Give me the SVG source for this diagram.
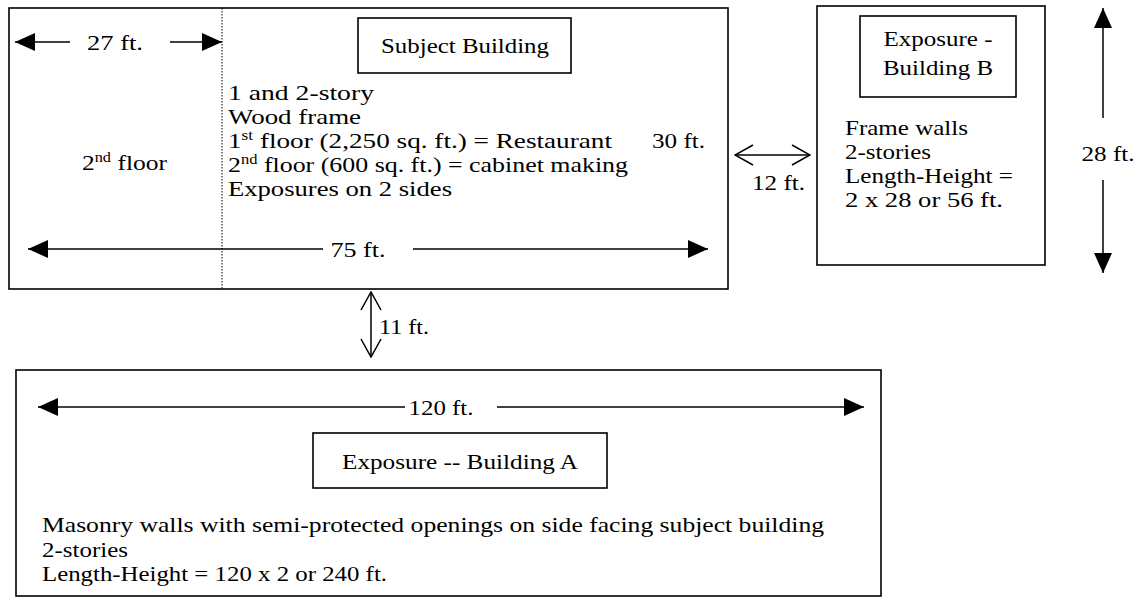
<svg xmlns="http://www.w3.org/2000/svg" width="1138" height="599" viewBox="0 0 1138 599">
<style>
  .box{fill:none;stroke:#000;stroke-width:1.6}
  .t{font-size:22px;fill:#000}
  .c{text-anchor:middle}
  .dim{stroke:#000;stroke-width:1.5;fill:none}
  .sup{font-size:14px}
</style>
<defs>
  <marker id="solid" viewBox="0 0 20 18" refX="20" refY="9" markerWidth="20" markerHeight="18" markerUnits="userSpaceOnUse" orient="auto-start-reverse">
    <path d="M0,0 L20,9 L0,18 Z" fill="#000"/>
  </marker>
  <marker id="open" viewBox="0 0 20 22" refX="19" refY="11" markerWidth="20" markerHeight="22" markerUnits="userSpaceOnUse" orient="auto-start-reverse">
    <path d="M1,1 L19,11 L1,21" fill="none" stroke="#000" stroke-width="1.5"/>
  </marker>
</defs>
<rect width="1138" height="599" fill="#fff"/>
<g font-family="Liberation Serif, DejaVu Serif, serif" lengthAdjust="spacingAndGlyphs">
<g id="subject-building">
  <rect class="box" x="9" y="8" width="719" height="281"/>
  <line x1="222" y1="8" x2="222" y2="289" stroke="#000" stroke-width="1" stroke-dasharray="1.5,1.5"/>
  <text class="t" x="82" y="170" textLength="85" lengthAdjust="spacingAndGlyphs">2<tspan class="sup" dy="-8">nd</tspan><tspan dy="8"> floor</tspan></text>
  <rect class="box" x="358" y="18" width="213" height="55"/>
  <text class="t c" x="465" y="53" textLength="168" lengthAdjust="spacingAndGlyphs">Subject Building</text>
  <text class="t" x="228" y="100" textLength="146" lengthAdjust="spacingAndGlyphs">1 and 2-story</text>
  <text class="t" x="228" y="124" textLength="133" lengthAdjust="spacingAndGlyphs">Wood frame</text>
  <text class="t" x="228" y="148" textLength="384" lengthAdjust="spacingAndGlyphs">1<tspan class="sup" dy="-8">st</tspan><tspan dy="8"> floor (2,250 sq. ft.) = Restaurant</tspan></text>
  <text class="t" x="228" y="172" textLength="400" lengthAdjust="spacingAndGlyphs">2<tspan class="sup" dy="-8">nd</tspan><tspan dy="8"> floor (600 sq. ft.) = cabinet making</tspan></text>
  <text class="t" x="228" y="196" textLength="224" lengthAdjust="spacingAndGlyphs">Exposures on 2 sides</text>
  <text class="t" x="652" y="148" textLength="53" lengthAdjust="spacingAndGlyphs">30 ft.</text>
</g>

<g id="building-b">
  <rect class="box" x="817" y="6" width="228" height="259"/>
  <rect class="box" x="860" y="16" width="156" height="81"/>
  <text class="t c" x="938" y="46" textLength="109" lengthAdjust="spacingAndGlyphs">Exposure -</text>
  <text class="t c" x="938" y="75" textLength="110" lengthAdjust="spacingAndGlyphs">Building B</text>
  <text class="t" x="845" y="135" textLength="123" lengthAdjust="spacingAndGlyphs">Frame walls</text>
  <text class="t" x="845" y="159" textLength="86" lengthAdjust="spacingAndGlyphs">2-stories</text>
  <text class="t" x="845" y="183" textLength="168" lengthAdjust="spacingAndGlyphs">Length-Height =</text>
  <text class="t" x="845" y="207" textLength="158" lengthAdjust="spacingAndGlyphs">2 x 28 or 56 ft.</text>
</g>

<g id="building-a">
  <rect class="box" x="16" y="370" width="865" height="226"/>
  <rect class="box" x="313" y="433" width="294" height="55"/>
  <text class="t c" x="460" y="469" textLength="236" lengthAdjust="spacingAndGlyphs">Exposure -- Building A</text>
  <text class="t" x="42" y="532" textLength="782" lengthAdjust="spacingAndGlyphs">Masonry walls with semi-protected openings on side facing subject building</text>
  <text class="t" x="42" y="557" textLength="86" lengthAdjust="spacingAndGlyphs">2-stories</text>
  <text class="t" x="42" y="581" textLength="345" lengthAdjust="spacingAndGlyphs">Length-Height = 120 x 2 or 240 ft.</text>
</g>

<g id="connectors">
  <line class="dim" x1="70" y1="42" x2="15" y2="42" marker-end="url(#solid)"/>
  <line class="dim" x1="170" y1="42" x2="222" y2="42" marker-end="url(#solid)"/>
  <line class="dim" x1="323" y1="249" x2="28" y2="249" marker-end="url(#solid)"/>
  <line class="dim" x1="413" y1="249" x2="708" y2="249" marker-end="url(#solid)"/>
  <line class="dim" x1="1103" y1="118" x2="1103" y2="8" marker-end="url(#solid)"/>
  <line class="dim" x1="1103" y1="180" x2="1103" y2="273" marker-end="url(#solid)"/>
  <line class="dim" x1="405" y1="407" x2="38" y2="407" marker-end="url(#solid)"/>
  <line class="dim" x1="497" y1="407" x2="864" y2="407" marker-end="url(#solid)"/>
  <line class="dim" x1="735" y1="155" x2="810" y2="155" marker-start="url(#open)" marker-end="url(#open)"/>
  <line class="dim" x1="371" y1="292" x2="371" y2="357" marker-start="url(#open)" marker-end="url(#open)"/>
</g>
<g id="labels">
  <text class="t c" x="115" y="50" textLength="56" lengthAdjust="spacingAndGlyphs">27 ft.</text>
  <text class="t c" x="358" y="257" textLength="55" lengthAdjust="spacingAndGlyphs">75 ft.</text>
  <text class="t" x="752" y="190" textLength="53" lengthAdjust="spacingAndGlyphs">12 ft.</text>
  <text class="t" x="379" y="334" textLength="50" lengthAdjust="spacingAndGlyphs">11 ft.</text>
  <text class="t c" x="1108" y="161" textLength="53" lengthAdjust="spacingAndGlyphs">28 ft.</text>
  <text class="t c" x="441" y="415" textLength="65" lengthAdjust="spacingAndGlyphs">120 ft.</text>
</g>
</g>
</svg>
